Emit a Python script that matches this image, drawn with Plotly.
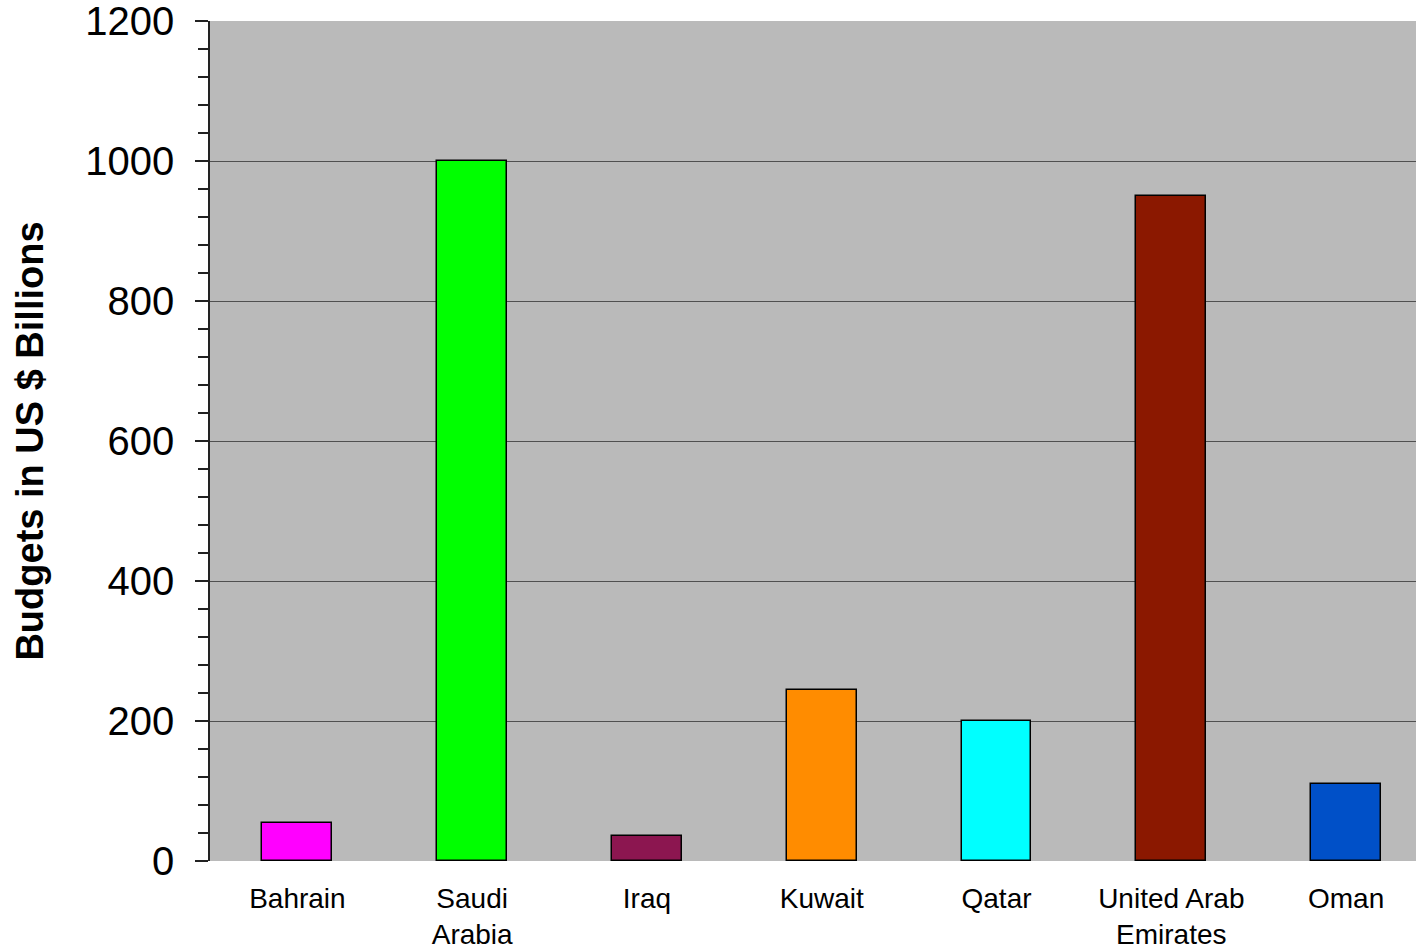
import plotly.graph_objects as go

countries = ["Bahrain", "Saudi<br>Arabia", "Iraq", "Kuwait", "Qatar", "United Arab<br>Emirates", "Oman"]
budgets = [55, 1000, 36, 245, 200, 950, 110]
colors = ["#FF00FF", "#00FF00", "#8C1650", "#FF8C00", "#00FFFF", "#8B1800", "#0050C8"]
y_ticks = [0, 200, 400, 600, 800, 1000, 1200]

fig = go.Figure(
    go.Bar(
        x=list(range(len(countries))),
        y=budgets,
        width=0.4,
        marker=dict(color=colors, line=dict(color="#000000", width=1.5)),
    )
)

fig.update_layout(
    width=1416,
    height=950,
    margin=dict(l=210, r=0, t=21, b=89, autoexpand=False),
    paper_bgcolor="#FFFFFF",
    plot_bgcolor="#BABABA",
    font=dict(family="Liberation Sans, Arial, sans-serif", color="#000000"),
    showlegend=False,
    bargap=0,
)

fig.update_xaxes(
    tickmode="array",
    tickvals=list(range(len(countries))),
    ticktext=countries,
    range=[-0.5, 6.4],
    showgrid=False,
    zeroline=False,
    showline=False,
    ticks="",
    ticklen=0,
    tickfont=dict(size=28),
    ticklabelstandoff=18,
    automargin=False,
)

fig.update_yaxes(
    range=[0, 1200.3],
    tickmode="array",
    tickvals=y_ticks,
    ticktext=[str(v) for v in y_ticks],
    showgrid=True,
    gridcolor="#505050",
    gridwidth=1,
    zeroline=False,
    showline=True,
    linecolor="#222222",
    linewidth=1.5,
    ticks="outside",
    ticklen=13,
    tickcolor="#222222",
    tickwidth=1.5,
    tickfont=dict(size=40),
    ticklabelstandoff=13,
    ticklabeloverflow="allow",
    minor=dict(dtick=40, ticks="outside", ticklen=10, tickcolor="#222222", tickwidth=1.5, showgrid=False),
    title=dict(text="<b>Budgets in US $ Billions</b>", font=dict(size=38), standoff=30),
    automargin=False,
)

fig.write_html("out.html")
